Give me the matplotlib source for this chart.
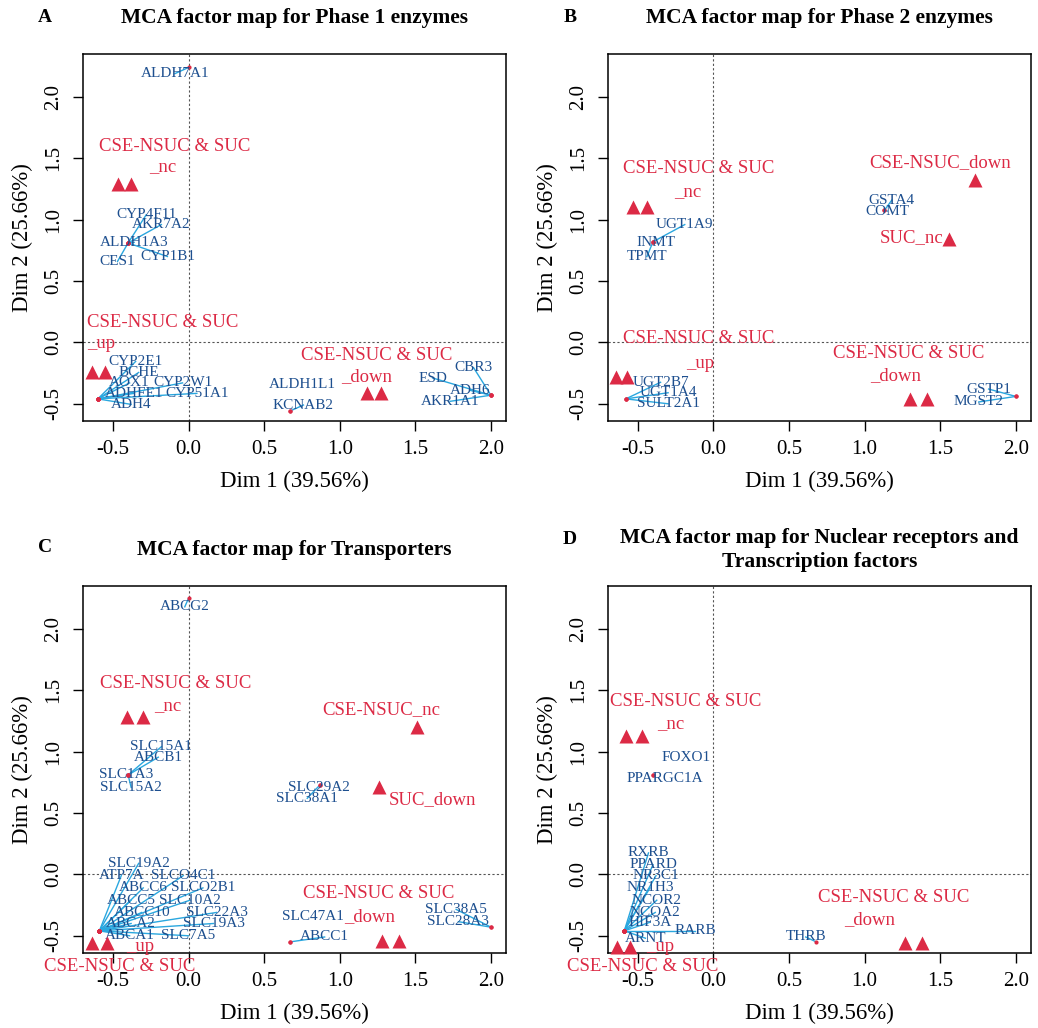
import matplotlib
matplotlib.use("Agg")
import matplotlib.pyplot as plt

plt.rcParams["font.family"] = ["Liberation Serif", "DejaVu Serif"]

BLUE = "#1d4f8f"
CYAN = "#2aa7df"
RED = "#dc2a45"

X_LABEL = "Dim 1 (39.56%)"
Y_LABEL = "Dim 2 (25.66%)"
TICKS = [-0.5, 0.0, 0.5, 1.0, 1.5, 2.0]

# --------------------------------------------------
# A: Phase 1 enzymes
# --------------------------------------------------
a_genes = ["ALDH7A1", "CYP4F11", "AKR7A2", "ALDH1A3", "CES1", "CYP1B1",
           "CYP2E1", "BCHE", "AOX1", "CYP2W1", "ADHFE1", "CYP51A1", "ADH4",
           "KCNAB2", "ALDH1L1", "CBR3", "ESD", "ADH6", "AKR1A1"]
a_gene_x = [0.0, -0.40, -0.40, -0.40, -0.40, -0.40,
            -0.60, -0.60, -0.60, -0.60, -0.60, -0.60, -0.60,
            0.67, 0.67, 2.0, 2.0, 2.0, 2.0]
a_gene_y = [2.24, 0.81, 0.81, 0.81, 0.81, 0.81,
            -0.46, -0.46, -0.46, -0.46, -0.46, -0.46, -0.46,
            -0.56, -0.56, -0.43, -0.43, -0.43, -0.43]
a_cat_x = [-0.47, -0.38, -0.64, -0.55, 1.18, 1.27]
a_cat_y = [1.29, 1.29, -0.24, -0.24, -0.41, -0.41]
a_cat_text = ["CSE-NSUC & SUC", "_nc", "CSE-NSUC & SUC", "_up",
              "CSE-NSUC & SUC", "_down"]

# --------------------------------------------------
# B: Phase 2 enzymes
# --------------------------------------------------
b_genes = ["GSTA4", "COMT", "UGT1A9", "INMT", "TPMT",
           "UGT2B7", "UGT1A4", "SULT2A1", "GSTP1", "MGST2"]
b_gene_x = [1.13, 1.13, -0.40, -0.40, -0.40, -0.58, -0.58, -0.58, 2.0, 2.0]
b_gene_y = [1.075, 1.075, 0.82, 0.82, 0.82, -0.46, -0.46, -0.46, -0.44, -0.44]
b_cat_x = [-0.53, -0.44, 1.73, 1.56, -0.645, -0.57, 1.30, 1.41]
b_cat_y = [1.10, 1.10, 1.32, 0.845, -0.28, -0.28, -0.46, -0.46]
b_cat_text = ["CSE-NSUC & SUC", "_nc", "CSE-NSUC_down", "SUC_nc",
              "CSE-NSUC & SUC", "_up", "CSE-NSUC & SUC", "_down"]

# --------------------------------------------------
# C: Transporters
# --------------------------------------------------
c_genes = ["ABCG2", "SLC15A1", "ABCB1", "SLC1A3", "SLC15A2",
           "SLC29A2", "SLC38A1",
           "SLC19A2", "ATP7A", "SLCO4C1", "ABCC6", "SLCO2B1", "ABCC5",
           "SLC10A2", "ABCC10", "SLC22A3", "ABCA2", "SLC19A3", "ABCA1",
           "SLC7A5", "SLC47A1", "ABCC1", "SLC38A5", "SLC28A3"]
c_gene_x = [0.0, -0.40, -0.40, -0.40, -0.40, 0.87, 0.87,
            -0.59, -0.59, -0.59, -0.59, -0.59, -0.59, -0.59, -0.59, -0.59,
            -0.59, -0.59, -0.59, -0.59, 0.67, 0.67, 2.0, 2.0]
c_gene_y = [2.25, 0.81, 0.81, 0.81, 0.81, 0.73, 0.73,
            -0.46, -0.46, -0.46, -0.46, -0.46, -0.46, -0.46, -0.46, -0.46,
            -0.46, -0.46, -0.46, -0.46, -0.55, -0.55, -0.43, -0.43]
c_cat_x = [-0.41, -0.30, 1.51, 1.26, -0.64, -0.54, 1.28, 1.39]
c_cat_y = [1.28, 1.28, 1.20, 0.71, -0.56, -0.56, -0.54, -0.54]
c_cat_text = ["CSE-NSUC & SUC", "_nc", "CSE-NSUC_nc", "SUC_down",
              "CSE-NSUC & SUC", "_up", "CSE-NSUC & SUC", "_down"]

# --------------------------------------------------
# D: Nuclear receptors and transcription factors
# --------------------------------------------------
d_genes = ["FOXO1", "PPARGC1A", "RXRB", "PPARD", "NR3C1", "NR1H3", "NCOR2",
           "NCOA2", "HIF3A", "RARB", "ARNT", "THRB"]
d_gene_x = [-0.40, -0.40, -0.59, -0.59, -0.59, -0.59, -0.59,
            -0.59, -0.59, -0.59, -0.59, 0.68]
d_gene_y = [0.81, 0.81, -0.46, -0.46, -0.46, -0.46, -0.46,
            -0.46, -0.46, -0.46, -0.46, -0.55]
d_cat_x = [-0.58, -0.47, -0.64, -0.55, 1.27, 1.38]
d_cat_y = [1.13, 1.13, -0.59, -0.59, -0.56, -0.56]
d_cat_text = ["CSE-NSUC & SUC", "_nc", "CSE-NSUC & SUC", "_up",
              "CSE-NSUC & SUC", "_down"]

# label placement (repelled positions, data units)
A_GENE_POS = [(-0.09, 2.19), (-0.28, 1.04), (-0.18, 0.96), (-0.36, 0.815),
              (-0.47, 0.66), (-0.14, 0.70), (-0.35, -0.155), (-0.33, -0.245),
              (-0.39, -0.33), (-0.04, -0.33), (-0.36, -0.415), (0.055, -0.415),
              (-0.38, -0.505), (0.76, -0.51), (0.75, -0.34), (1.885, -0.205),
              (1.615, -0.29), (1.86, -0.39), (1.73, -0.48)]
A_CAT_POS = [(-0.09, 1.60), (-0.17, 1.43), (-0.17, 0.16), (-0.58, -0.01),
             (1.245, -0.105), (1.18, -0.28)]
B_GENE_POS = [(1.18, 1.16), (1.15, 1.07), (-0.19, 0.96), (-0.38, 0.81),
              (-0.44, 0.70), (-0.35, -0.325), (-0.30, -0.41), (-0.30, -0.50),
              (1.82, -0.38), (1.755, -0.485)]
B_CAT_POS = [(-0.10, 1.415), (-0.17, 1.23), (1.50, 1.465), (1.31, 0.85),
             (-0.10, 0.03), (-0.09, -0.17), (1.29, -0.09), (1.205, -0.27)]
C_GENE_POS = [(-0.025, 2.18), (-0.18, 1.04), (-0.20, 0.955), (-0.41, 0.815),
              (-0.38, 0.71), (0.865, 0.71), (0.785, 0.62),
              (-0.33, 0.09), (-0.445, -0.01), (-0.035, -0.01), (-0.30, -0.11),
              (0.095, -0.11), (-0.38, -0.21), (0.01, -0.21), (-0.31, -0.31),
              (0.185, -0.31), (-0.38, -0.40), (0.165, -0.40), (-0.39, -0.50),
              (0.0, -0.50), (0.82, -0.34), (0.90, -0.51), (1.77, -0.285),
              (1.785, -0.385)]
C_CAT_POS = [(-0.085, 1.555), (-0.14, 1.375), (1.275, 1.34), (1.615, 0.61),
             (-0.455, -0.75), (-0.32, -0.59), (1.255, -0.155), (1.20, -0.34)]
D_GENE_POS = [(-0.18, 0.955), (-0.325, 0.78), (-0.43, 0.175), (-0.40, 0.08),
              (-0.38, -0.01), (-0.42, -0.11), (-0.375, -0.21), (-0.385, -0.31),
              (-0.42, -0.39), (-0.12, -0.46), (-0.45, -0.52), (0.61, -0.51)]
D_CAT_POS = [(-0.185, 1.41), (-0.28, 1.23), (-0.47, -0.75), (-0.355, -0.59),
             (1.19, -0.19), (1.03, -0.37)]

NO_SEGMENT = {"ALDH1L1", "SLC47A1", "FOXO1", "PPARGC1A"}

panels = [
    dict(letter="A", title="MCA factor map for Phase 1 enzymes",
         rect=[0.080, 0.5905, 0.4075, 0.357], letter_dy=36,
         genes=a_genes, gx=a_gene_x, gy=a_gene_y, gpos=A_GENE_POS,
         cx=a_cat_x, cy=a_cat_y, ctext=a_cat_text, cpos=A_CAT_POS),
    dict(letter="B", title="MCA factor map for Phase 2 enzymes",
         rect=[0.5857, 0.5905, 0.4075, 0.357], letter_dy=36,
         genes=b_genes, gx=b_gene_x, gy=b_gene_y, gpos=B_GENE_POS,
         cx=b_cat_x, cy=b_cat_y, ctext=b_cat_text, cpos=B_CAT_POS),
    dict(letter="C", title="MCA factor map for Transporters",
         rect=[0.080, 0.073, 0.4075, 0.357], letter_dy=38,
         genes=c_genes, gx=c_gene_x, gy=c_gene_y, gpos=C_GENE_POS,
         cx=c_cat_x, cy=c_cat_y, ctext=c_cat_text, cpos=C_CAT_POS),
    dict(letter="D", title="MCA factor map for Nuclear receptors and\nTranscription factors",
         rect=[0.5857, 0.073, 0.4075, 0.357], letter_dy=46,
         genes=d_genes, gx=d_gene_x, gy=d_gene_y, gpos=D_GENE_POS,
         cx=d_cat_x, cy=d_cat_y, ctext=d_cat_text, cpos=D_CAT_POS),
]

FIG_W, FIG_H = 1038, 1028
fig = plt.figure(figsize=(FIG_W / 100, FIG_H / 100), dpi=100)

for p in panels:
    ax = fig.add_axes(p["rect"])
    ax.set_xlim(-0.698, 2.10)
    ax.set_ylim(-0.64, 2.35)

    ax.axhline(0, color="#555555", lw=0.8, ls=(0, (2, 2)), zorder=1)
    ax.axvline(0, color="#555555", lw=0.8, ls=(0, (2, 2)), zorder=1)

    # gene segments, points, labels
    for name, x, y, (lx, ly) in zip(p["genes"], p["gx"], p["gy"], p["gpos"]):
        if name not in NO_SEGMENT:
            ax.plot([x, lx], [y, ly], color=CYAN, lw=1.0, zorder=2)
        ax.plot(x, y, "o", color=RED, ms=3, mec="none", zorder=3)
        ax.text(lx, ly, name, color=BLUE, fontsize=11,
                ha="center", va="center", zorder=4)

    # categories
    ax.plot(p["cx"], p["cy"], "^", color=RED, ms=10, mec="none",
            ls="none", zorder=5, clip_on=False)
    for txt, (tx, ty) in zip(p["ctext"], p["cpos"]):
        ax.text(tx, ty, txt, color=RED, fontsize=13.5, ha="center",
                va="center", zorder=6, clip_on=False)

    ax.set_xticks(TICKS)
    ax.set_yticks(TICKS)
    ax.set_xticklabels([f"{t:.1f}" for t in TICKS])
    ax.set_yticklabels([f"{t:.1f}" for t in TICKS], rotation=90, va="center")
    ax.tick_params(direction="out", length=7, width=1.0, labelsize=15, pad=7)
    for s in ax.spines.values():
        s.set_linewidth(1.1)
    ax.set_xlabel(X_LABEL, fontsize=16.5, labelpad=8)
    ax.set_ylabel(Y_LABEL, fontsize=16.5, labelpad=8)

    # title and panel letter, centred above the box
    left, bottom, width, height = p["rect"]
    top = bottom + height
    fig.text(left + width / 2, top + 36 / FIG_H, p["title"],
             fontsize=15.5, fontweight="bold", ha="center", va="center",
             linespacing=1.3)
    fig.text(left - 38 / FIG_W, top + p["letter_dy"] / FIG_H, p["letter"],
             fontsize=14, fontweight="bold", ha="center", va="center")

fig.savefig("out.png", dpi=100)
